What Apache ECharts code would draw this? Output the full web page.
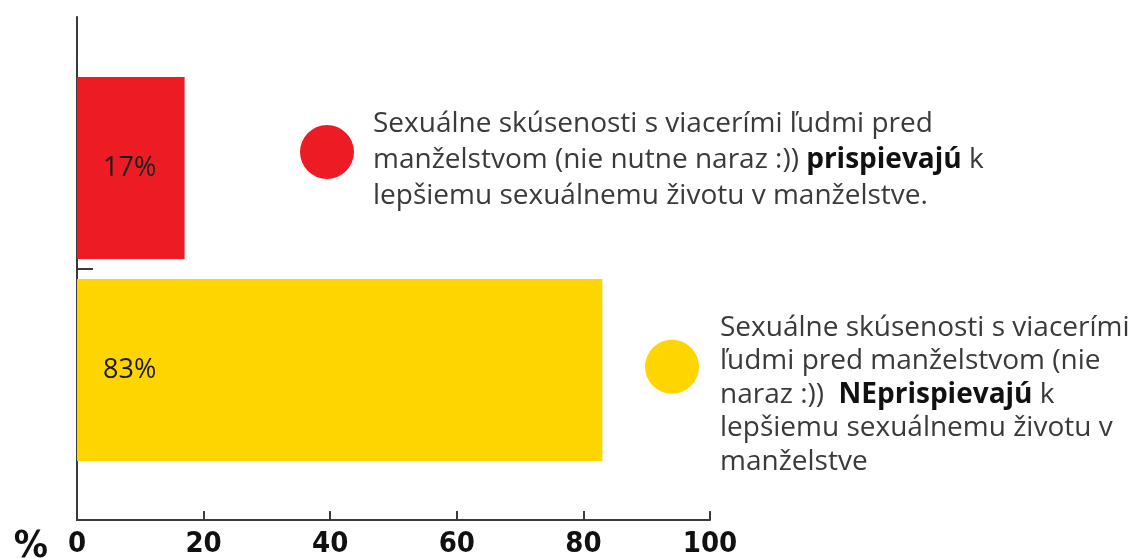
<!DOCTYPE html>
<html>
<head>
<meta charset="utf-8">
<script src="https://cdn.jsdelivr.net/npm/echarts@6/dist/echarts.min.js"></script>
<style>
  html, body { margin: 0; padding: 0; background: #fff; }
  #chart { width: 1139px; height: 558px; }
</style>
</head>
<body>
<div id="chart"></div>
<script>
// data
const categories = ['prispievajú', 'neprispievajú'];
const values = [17, 83];
const colors = ['#ED1C24', '#FFD500'];
const xTicks = [0, 20, 40, 60, 80, 100];
const legendLines = [
  [
    'Sexuálne skúsenosti s viacerími ľudmi pred',
    'manželstvom (nie nutne naraz :)) {b|prispievajú} k',
    'lepšiemu sexuálnemu životu v manželstve.'
  ],
  [
    'Sexuálne skúsenosti s viacerími',
    'ľudmi pred manželstvom (nie',
    'naraz :))  {b|NEprispievajú} k',
    'lepšiemu sexuálnemu životu v',
    'manželstve'
  ]
];

const axisFont = "'Liberation Sans Narrow', 'DejaVu Sans Condensed', sans-serif";
const textFont = "'Open Sans', 'Noto Sans', sans-serif";

let chart = echarts.init(document.getElementById('chart'));

function legendOpt(i, left, top, lineHeight, padTop, padLeft) {
  return {
    data: [categories[i]],
    left: left,
    top: top,
    padding: 0,
    orient: 'vertical',
    icon: 'circle',
    itemWidth: 54,
    itemHeight: 54,
    selectedMode: false,
    formatter: () => legendLines[i].join('\n'),
    textStyle: {
      fontFamily: textFont,
      fontSize: 28,
      color: '#3a3a3a',
      lineHeight: lineHeight,
      padding: [padTop, 0, 0, padLeft],
      rich: {
        b: {
          fontFamily: textFont,
          fontSize: 28,
          fontWeight: 'bold',
          color: '#111',
          lineHeight: lineHeight
        }
      }
    }
  };
}

let series = categories.map((name, i) => ({
  name: name,
  type: 'bar',
  stack: 'total',
  xAxisIndex: 1,
  yAxisIndex: 1,
  barCategoryGap: '10%',
  itemStyle: { color: colors[i] },
  data: values.map((v, j) => (j === i ? v : '-')),
  label: {
    show: true,
    position: 'insideLeft',
    distance: 26,
    formatter: '{c}%',
    fontFamily: textFont,
    fontSize: 27,
    color: '#1a1a1a'
  }
}));

chart.setOption({
  animation: false,
  legend: [
    legendOpt(0, 300, 90, 36, 16, 14),
    legendOpt(1, 645, 255, 33.5, 56, 16)
  ],
  grid: [
    { left: 77, right: 429, top: 17, bottom: 38, outerBoundsMode: 'none' },
    { left: 77, right: 429, top: 67, bottom: 87, outerBoundsMode: 'none' }
  ],
  xAxis: [
    {
      gridIndex: 0,
      type: 'value',
      min: xTicks[0],
      max: xTicks[xTicks.length - 1],
      interval: 20,
      name: '%',
      nameLocation: 'start',
      nameGap: 29,
      nameTextStyle: {
        fontFamily: axisFont,
        fontWeight: 'bold',
        fontSize: 38,
        color: '#111',
        verticalAlign: 'top',
        lineHeight: 54
      },
      axisLine: { show: true, lineStyle: { color: '#3a3a3a', width: 2 } },
      axisTick: { show: true, inside: true, length: 9, lineStyle: { color: '#3a3a3a', width: 2 } },
      splitLine: { show: false },
      axisLabel: {
        margin: 10,
        fontFamily: axisFont,
        fontWeight: 'bold',
        fontSize: 29,
        color: '#111'
      }
    },
    {
      gridIndex: 1,
      type: 'value',
      min: xTicks[0],
      max: xTicks[xTicks.length - 1],
      show: false
    }
  ],
  yAxis: [
    {
      gridIndex: 0,
      type: 'value',
      min: 0,
      max: 100,
      axisLine: { show: true, lineStyle: { color: '#3a3a3a', width: 2 } },
      axisTick: {
        show: true,
        inside: true,
        length: 16,
        customValues: [50],
        lineStyle: { color: '#3a3a3a', width: 2 }
      },
      axisLabel: { show: false },
      splitLine: { show: false }
    },
    {
      gridIndex: 1,
      type: 'category',
      inverse: true,
      data: categories,
      show: false
    }
  ],
  series: series
});
</script>
</body>
</html>
